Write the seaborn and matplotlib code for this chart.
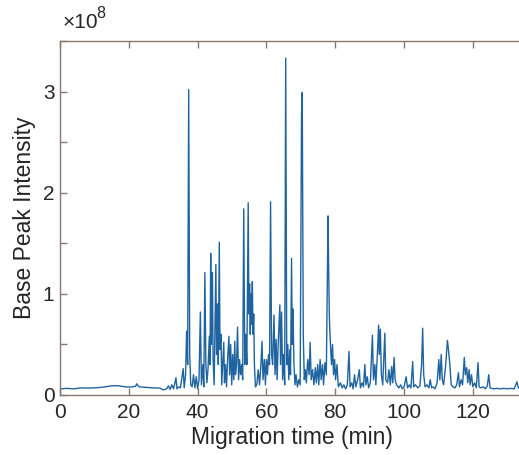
# Base peak electropherogram (CE-MS run)
import numpy as np
import matplotlib
matplotlib.use("Agg")
import matplotlib.pyplot as plt
import seaborn as sns

# migration time (min) and base peak intensity (x 1e8)
time_min = [
    0, 2, 4, 6, 8, 10, 12, 14, 15, 16, 17, 18, 19, 20, 21, 22, 22.3, 23, 25, 27,
    29, 30, 31, 31.5, 32, 32.5, 33, 33.7, 34, 34.5, 35, 35.8, 36.1, 36.5, 36.8, 37.1,
    37.4, 37.7, 38, 38.4, 38.8, 39.2, 39.6, 40, 40.4, 40.8, 41.1, 41.5, 41.8, 42.1,
    42.4, 42.7, 43, 43.4, 43.6, 43.8, 44.0, 44.3, 44.5, 44.8, 45.0, 45.3, 45.5, 45.8,
    46.0, 46.3, 46.5, 46.8, 47.0, 47.3, 47.6, 47.8, 48.1, 48.4, 48.7, 49.1, 49.3, 49.6,
    49.9, 50.2, 50.5, 50.8, 51.0, 51.3, 51.6, 51.9, 52.2, 52.5, 52.8, 53.1, 53.4, 53.7,
    54.0, 54.3, 54.7, 54.9, 55.1, 55.3, 55.5, 55.7, 55.9, 56.1, 56.3, 56.5, 56.8, 57.2,
    57.6, 58.0, 58.4, 58.7, 59.0, 59.4, 59.7, 60.0, 60.3, 60.6, 60.9, 61.2, 61.5, 61.8,
    62.2, 62.5, 62.8, 63.1, 63.4, 63.9, 64.1, 64.4, 64.7, 65.0, 65.3, 65.6, 65.9, 66.2,
    66.5, 66.8, 67.0, 67.3, 67.5, 67.7, 68.0, 68.3, 68.6, 69.0, 69.4, 69.8, 70.2, 70.4,
    70.7, 71.0, 71.3, 71.6, 72.0, 72.4, 72.7, 73.0, 73.4, 73.8, 74.2, 74.5, 74.9, 75.2,
    75.6, 75.9, 76.3, 76.6, 77.0, 77.4, 77.9, 78.1, 78.3, 78.6, 78.9, 79.2, 79.5, 79.8,
    80.1, 80.5, 80.9, 81.5, 82, 82.5, 83, 83.5, 84.0, 84.3, 84.8, 85.2, 85.6, 86.0,
    86.5, 87.0, 87.3, 87.8, 88.2, 88.6, 88.9, 89.3, 89.7, 90.2, 90.8, 91.1, 91.5, 91.8,
    92.3, 92.6, 92.8, 93.1, 93.4, 93.8, 94.4, 94.7, 95.2, 95.6, 96.0, 96.4, 96.7, 97.1,
    97.4, 97.8, 98.5, 99, 99.5, 100, 100.6, 101, 101.5, 102, 102.5, 102.8, 103.3, 104,
    104.6, 105.1, 105.4, 105.7, 106.1, 106.6, 107.2, 107.6, 108, 108.5, 109, 109.6, 110.1, 110.4,
    110.8, 111.1, 111.5, 112.1, 112.6, 112.9, 113.3, 113.7, 114.2, 114.8, 115.3, 115.8, 116.1, 116.6,
    117.0, 117.5, 117.8, 118.2, 118.5, 118.9, 119.2, 119.6, 120, 120.5, 121, 121.5, 121.8, 122.3,
    123, 123.6, 124.2, 124.6, 125, 126, 127, 128, 129, 130, 131, 132, 132.8, 133.2,
    134, 135,
]
intensity_e8 = [
    .06, .065, .06, .07, .068, .07, .075, .085, .09, .092, .09, .085, .08, .078, .08, .085, .11, .08, .075, .07,
    .068, .05, .06, .09, .055, .10, .06, .17, .06, .08, .07, .26, .07, .20, .63, .30,
    3.02, .40, .10, .08, .20, .07, .18, .06, .15, .82, .10, .30, .08, 1.21,
    .30, .12, .25, .58, .30, 1.40, .50, 1.21, .35, .10, .60, 1.29, .40, .90,
    .30, 1.51, .45, .60, .10, .30, .52, .12, .30, .08, .35, .58, .20, .50,
    .10, .40, .15, .53, .20, .30, .67, .15, .35, .20, .30, .15, 1.84, .30,
    .60, .30, 1.90, .80, 1.10, .60, 1.00, .70, 1.12, .60, .80, .30, .08, .10,
    .25, .10, .30, .53, .15, .35, .10, .35, .20, .40, .30, 1.91, .40, .30,
    .79, .20, .55, .15, .50, .89, .30, .82, .15, .40, .10, 3.33, .30, .50,
    .15, .45, .20, 1.35, .50, .85, .30, .10, .20, .08, .15, .10, 2.78, 2.99,
    .60, .15, .25, .12, .35, .20, .52, .15, .25, .10, .27, .12, .30, .10,
    .35, .15, .30, .10, .32, .20, 1.77, 1.20, .75, .50, .30, .50, .20, .35,
    .15, .30, .08, .12, .07, .10, .06, .10, .43, .08, .12, .06, .20, .08,
    .15, .25, .07, .12, .08, .30, .10, .18, .07, .12, .59, .15, .30, .10,
    .45, .69, .40, .65, .20, .10, .61, .15, .12, .25, .10, .28, .12, .37,
    .15, .10, .07, .10, .06, .08, .18, .07, .10, .07, .33, .08, .10, .07,
    .09, .30, .66, .20, .08, .10, .07, .15, .07, .08, .06, .12, .35, .15,
    .40, .15, .10, .30, .54, .45, .30, .10, .08, .07, .10, .22, .08, .15,
    .10, .37, .20, .27, .12, .25, .10, .20, .08, .12, .07, .32, .08, .07,
    .08, .06, .09, .20, .07, .06, .065, .06, .065, .06, .065, .06, .13, .07,
    .06, .065,
]

x_ticks = [0, 20, 40, 60, 80, 100, 120]
y_ticks = [0, 1, 2, 3]

sns.set_theme(style="white")
plt.rcParams['font.family'] = ['Liberation Sans', 'DejaVu Sans']

line_color = '#1f64a0'
axis_color = '#857a72'
text_color = '#262626'

fig = plt.figure(figsize=(5.19, 4.55), dpi=100)
ax = fig.add_axes([0.1156, 0.132, 0.895, 0.778])

sns.lineplot(x=time_min, y=intensity_e8, ax=ax, color=line_color,
             linewidth=1.0, estimator=None, sort=False)

ax.set_xlim(0, 135)
ax.set_ylim(0, 3.5)
ax.set_xticks(x_ticks)
ax.set_yticks(y_ticks)
ax.set_yticks(np.arange(0, 3.6, 0.5), minor=True)

ax.set_xlabel('Migration time (min)', fontsize=16.5, color=text_color, labelpad=3)
ax.set_ylabel('Base Peak Intensity', fontsize=16.5, color=text_color, labelpad=5)

for s in ax.spines.values():
    s.set_color(axis_color)
    s.set_linewidth(1.0)
ax.tick_params(axis='both', which='both', direction='in', colors=axis_color,
               labelcolor=text_color, labelsize=15, top=True, right=False,
               length=5, width=1.0, left=True, bottom=True)
ax.tick_params(axis='x', pad=6)
ax.tick_params(axis='y', pad=4)

# MATLAB style exponent label
ax.text(0.005, 1.025, '×10', transform=ax.transAxes, fontsize=15,
        color=text_color, ha='left', va='bottom')
ax.text(0.079, 1.055, '8', transform=ax.transAxes, fontsize=11.5,
        color=text_color, ha='left', va='bottom')

fig.savefig('out.png', dpi=100)
